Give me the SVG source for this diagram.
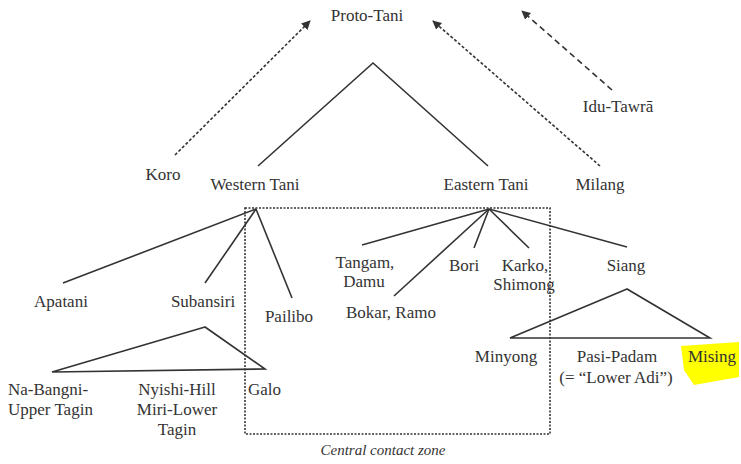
<svg xmlns="http://www.w3.org/2000/svg" width="741" height="464" viewBox="0 0 741 464" font-family="'Liberation Serif', 'DejaVu Serif', serif">
<style>
text{font-family:"Liberation Serif","DejaVu Serif",serif;font-size:17px;fill:#333;text-anchor:middle}
.s{text-anchor:start}
.it{font-style:italic;font-size:15px}
.ln{stroke:#333;stroke-width:1.6;fill:none}
.d1{stroke:#333;stroke-width:1.6;fill:none;stroke-dasharray:3 2}
.d2{stroke:#333;stroke-width:1.6;fill:none;stroke-dasharray:6 4}
.box{stroke:#333;stroke-width:1.6;fill:none;stroke-dasharray:2 1.5}
</style>
<defs>
<marker id="ah" viewBox="0 0 10 10" refX="9" refY="5" markerWidth="9" markerHeight="9" markerUnits="userSpaceOnUse" orient="auto">
<path d="M0,0 L10,5 L0,10 z" fill="#333"/>
</marker>
</defs>
<rect width="741" height="464" fill="#fff"/>
<path d="M681,346 L739,342 L739,377 L694,385 L684,370 Z" fill="#ffff00"/>
<g id="connectors">
<polyline class="ln" points="258,166 373,63 488,166"/>
<line class="d1" x1="175" y1="155" x2="310" y2="21" marker-end="url(#ah)"/>
<line class="d1" x1="600" y1="166" x2="433" y2="21" marker-end="url(#ah)"/>
<line class="d2" x1="612" y1="90" x2="522" y2="11" marker-end="url(#ah)"/>
<line class="ln" x1="256" y1="209" x2="63" y2="283"/>
<line class="ln" x1="256" y1="209" x2="205" y2="283"/>
<line class="ln" x1="256" y1="209" x2="292" y2="298"/>
<polygon class="ln" points="205,327 52,372 265,369"/>
<line class="ln" x1="489" y1="209" x2="362" y2="245"/>
<line class="ln" x1="489" y1="209" x2="394" y2="296"/>
<line class="ln" x1="489" y1="209" x2="474" y2="248"/>
<line class="ln" x1="489" y1="209" x2="529" y2="248"/>
<line class="ln" x1="489" y1="209" x2="627" y2="247"/>
<polygon class="ln" points="627,289 510,338 710,338"/>
</g>
<g id="zone">
<rect class="box" x="245" y="208" width="305" height="226"/>
<text class="it" x="383" y="455">Central contact zone</text>
</g>
<g id="proto-tani"><text x="367" y="21">Proto-Tani</text></g>
<g id="koro"><text x="163" y="180">Koro</text></g>
<g id="western-tani"><text x="255" y="190">Western Tani</text></g>
<g id="eastern-tani"><text x="486" y="190">Eastern Tani</text></g>
<g id="milang"><text x="600" y="190">Milang</text></g>
<g id="idu-tawra"><text x="618" y="112">Idu-Tawrā</text></g>
<g id="apatani"><text x="61" y="307">Apatani</text></g>
<g id="subansiri"><text x="203" y="307">Subansiri</text></g>
<g id="pailibo"><text x="289" y="322">Pailibo</text></g>
<g id="na-bangni"><text class="s" x="8" y="395">Na-Bangni-</text><text class="s" x="8" y="415">Upper Tagin</text></g>
<g id="nyishi"><text x="177" y="395">Nyishi-Hill</text><text x="177" y="415">Miri-Lower</text><text x="177" y="435">Tagin</text></g>
<g id="galo"><text class="s" x="248" y="395">Galo</text></g>
<g id="tangam"><text x="365" y="268">Tangam,</text><text x="364" y="287">Damu</text></g>
<g id="bori"><text x="464" y="271">Bori</text></g>
<g id="karko"><text x="525" y="271">Karko,</text><text x="524" y="290">Shimong</text></g>
<g id="bokar"><text x="391" y="318">Bokar, Ramo</text></g>
<g id="siang"><text x="626" y="271">Siang</text></g>
<g id="minyong"><text x="506" y="362">Minyong</text></g>
<g id="pasi-padam"><text x="617" y="362">Pasi-Padam</text><text x="616" y="383">(= “Lower Adi”)</text></g>
<g id="mising"><text x="712" y="362">Mising</text></g>
</svg>
